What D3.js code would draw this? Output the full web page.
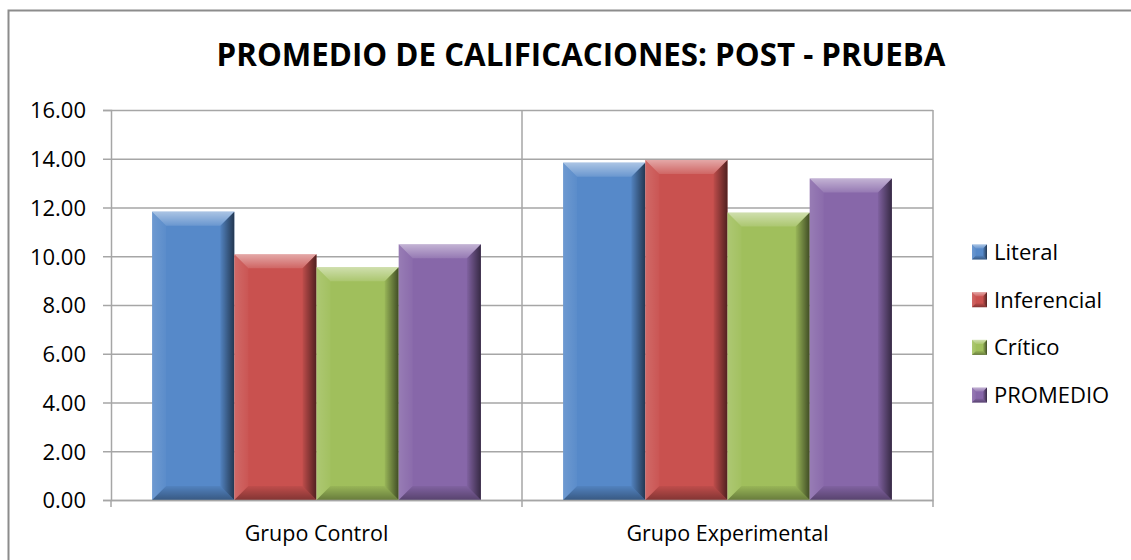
<!DOCTYPE html>
<html>
<head>
<meta charset="utf-8">
<script src="https://cdn.jsdelivr.net/npm/d3@7"></script>
<style>
  body { margin: 0; background: #fff; }
  text { font-family: 'Open Sans', sans-serif; fill: #000; }
</style>
</head>
<body>
<div id="chart"></div>
<script>
// data
const groups = ['Grupo Control', 'Grupo Experimental'];
const series = ['Literal', 'Inferencial', 'Crítico', 'PROMEDIO'];
const literal = [11.83, 13.84];
const inferencial = [10.08, 13.95];
const critico = [9.55, 11.79];
const promedio = [10.49, 13.19];
const yTicks = [0, 2, 4, 6, 8, 10, 12, 14, 16];
const colors = ['#5689c9', '#c9514f', '#a0bf5c', '#8767a9'];

const W = 1131, H = 560;
const margin = {top: 110, right: 198, bottom: 60, left: 111};

const svg = d3.select('#chart').append('svg')
    .attr('width', W)
    .attr('height', H)

// outer frame
svg.append('rect')
    .attr('x', 8.5).attr('y', 10.5)
    .attr('width', 1130).attr('height', 600)
    .attr('fill', '#fff')
    .attr('stroke', '#8c8c8c')
    .attr('stroke-width', 2)

const defs = svg.append('defs')
function grad(id, x2, y2, color, o1, o2) {
    let g = defs.append('linearGradient').attr('id', id)
        .attr('x1', 0).attr('y1', 0).attr('x2', x2).attr('y2', y2)
    g.append('stop').attr('offset', 0).attr('stop-color', color).attr('stop-opacity', o1)
    g.append('stop').attr('offset', 1).attr('stop-color', color).attr('stop-opacity', o2)
}
grad('bvTop', 0, 1, '#fff', 0.5, 0.12)
grad('bvRight', 1, 0, '#000', 0.05, 0.6)
grad('bvBottom', 0, 1, '#000', 0.05, 0.35)
grad('bvLeft', 1, 0, '#fff', 0.14, 0.03)

const y = d3.scaleLinear().domain([0, 16]).range([H - margin.bottom, margin.top])
const x0 = d3.scaleBand().domain(groups).range([margin.left, W - margin.right])
const x1 = d3.scaleBand().domain(series).range([0, x0.bandwidth()]).paddingInner(0).paddingOuter(0.5)

const values = groups.map((g, i) => ({
    group: g,
    bars: [literal[i], inferencial[i], critico[i], promedio[i]].map((v, j) => ({s: series[j], v: v, c: colors[j]}))
}))

// horizontal gridlines
svg.append('g')
    .attr('transform', 'translate(' + margin.left + ',0)')
    .call(d3.axisLeft(y).tickValues(yTicks).tickSize(-(W - margin.right - margin.left)).tickFormat(''))
    .call(g => g.select('.domain').remove())
    .selectAll('line').attr('stroke', '#a6a6a6').attr('stroke-width', 1.5)

// vertical separators between categories
const bounds = groups.map(g => x0(g) + x0.bandwidth())
svg.selectAll('.vsep')
    .data(bounds)
    .enter()
    .append('line')
    .attr('x1', d => d).attr('x2', d => d)
    .attr('y1', y(16)).attr('y2', y(0))
    .attr('stroke', '#a6a6a6').attr('stroke-width', 1.5)

function bevel(g, x, yTop, w, h, b) {
    g.append('rect').attr('x', x).attr('y', yTop).attr('width', w).attr('height', h)
    g.append('polygon').attr('fill', 'url(#bvTop)')
        .attr('points', [[x, yTop], [x + w, yTop], [x + w - b, yTop + b], [x + b, yTop + b]].join(' '))
    g.append('polygon').attr('fill', 'url(#bvLeft)')
        .attr('points', [[x, yTop], [x + b, yTop + b], [x + b, yTop + h - b], [x, yTop + h]].join(' '))
    g.append('polygon').attr('fill', 'url(#bvRight)')
        .attr('points', [[x + w - b, yTop + b], [x + w, yTop], [x + w, yTop + h], [x + w - b, yTop + h - b]].join(' '))
    g.append('polygon').attr('fill', 'url(#bvBottom)')
        .attr('points', [[x + b, yTop + h - b], [x + w - b, yTop + h - b], [x + w, yTop + h], [x, yTop + h]].join(' '))
}

// bars
const gGroups = svg.selectAll('.grp')
    .data(values)
    .enter()
    .append('g')
    .attr('class', 'grp')
    .attr('transform', d => 'translate(' + x0(d.group) + ',0)')

gGroups.each(function(d) {
    let gg = d3.select(this)
    d.bars.forEach(b => {
        let bar = gg.append('g')
        let bw = x1.bandwidth()
        let top = y(b.v)
        bevel(bar, x1(b.s), top, bw, y(0) - top, 14)
        bar.select('rect').attr('fill', b.c)
    })
})

// y axis
const yAxis = svg.append('g')
    .attr('transform', 'translate(' + margin.left + ',0)')
    .call(d3.axisLeft(y).tickValues(yTicks).tickFormat(d3.format('.2f')).tickSize(8).tickPadding(17))
yAxis.select('.domain').attr('stroke', '#a6a6a6').attr('stroke-width', 1.5)
yAxis.selectAll('line').attr('stroke', '#a6a6a6').attr('stroke-width', 1.5)
yAxis.selectAll('text').style('font-size', '22px').attr('dy', '0.36em')

// x axis
const xAxis = svg.append('g')
    .attr('transform', 'translate(0,' + y(0) + ')')
    .call(d3.axisBottom(x0).tickSize(0).tickPadding(26))
xAxis.select('.domain').attr('stroke', '#a6a6a6').attr('stroke-width', 1.5)
xAxis.selectAll('text').style('font-size', '21.5px')
svg.selectAll('.xtick')
    .data([margin.left].concat(bounds))
    .enter()
    .append('line')
    .attr('x1', d => d).attr('x2', d => d)
    .attr('y1', y(0)).attr('y2', y(0) + 7)
    .attr('stroke', '#a6a6a6').attr('stroke-width', 1.5)

// title
const title = svg.append('text')
    .attr('x', 581).attr('y', 66)
    .attr('text-anchor', 'middle')
    .style('font-weight', 'bold')
    .style('font-size', '30px')
    .text('PROMEDIO DE CALIFICACIONES: POST - PRUEBA')
let tw = title.node().getComputedTextLength()
title.style('font-size', (30 * 729 / tw) + 'px')

// legend
const legend = svg.selectAll('.leg')
    .data(series)
    .enter()
    .append('g')
    .attr('class', 'leg')
    .attr('transform', (d, i) => 'translate(972,' + (244.5 + i * 47.7) + ')')
legend.each(function(d, i) {
    let lg = d3.select(this).append('g')
    bevel(lg, 0, 0, 15, 15, 4)
    lg.select('rect').attr('fill', colors[i])
})
legend.append('text')
    .attr('x', 22).attr('y', 7.5)
    .attr('dy', '0.36em')
    .style('font-size', '22px')
    .text(d => d)
</script>
</body>
</html>
